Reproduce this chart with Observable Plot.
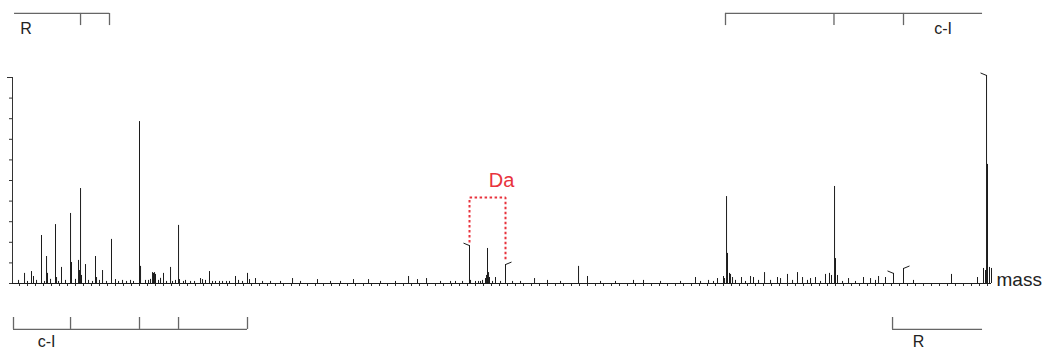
<!DOCTYPE html>
<html>
<head>
<meta charset="utf-8">
<script src="https://cdn.jsdelivr.net/npm/d3@7"></script>
<script src="https://cdn.jsdelivr.net/npm/@observablehq/plot@0.6"></script>
<style>
  html, body { margin: 0; padding: 0; background: #fff; }
  #chart svg { display: block; }
</style>
</head>
<body>
<div id="chart"></div>
<script>
// ---- Data ----
const peakMass = [
  816.3, 825.0, 827.5, 837.5, 843.8, 845.0, 855.0, 856.3, 862.5, 873.8,
  875.0, 883.8, 885.0, 886.3, 887.5, 892.5, 905.0, 906.3, 913.8, 925.0,
  930.0, 948.8, 960.0, 961.3, 971.3, 976.3, 977.5, 978.8, 980.0, 990.0,
  993.8, 998.8, 1001.3, 1008.8, 1010.0, 1017.5, 1023.8, 1036.3, 1038.8, 1047.5,
  1055.0, 1063.8, 1072.5, 1080.0, 1083.8, 1095.0, 1097.5, 1105.0, 1151.3, 1182.5,
  1227.5, 1246.3, 1296.3, 1307.5, 1318.8, 1348.8, 1372.5, 1373.8, 1386.3, 1392.5,
  1393.8, 1395.0, 1396.3, 1397.5, 1405.0, 1417.5, 1453.8, 1470.0, 1508.8, 1520.0,
  1577.5, 1590.0, 1655.0, 1682.5, 1690.0, 1691.3, 1693.8, 1695.0, 1697.5, 1698.8,
  1701.3, 1712.5, 1723.8, 1727.5, 1741.3, 1757.5, 1761.3, 1770.0, 1782.5, 1788.8,
  1798.8, 1805.0, 1817.5, 1822.5, 1825.0, 1828.8, 1830.0, 1832.5, 1846.3, 1865.0,
  1873.8, 1883.8, 1892.5, 1902.5, 1915.0, 1927.5, 1975.0, 2007.5, 2015.0, 2017.5,
  2018.8, 2020.0, 2022.5, 2025.0
];
const peakIntensity = [
  4.9, 5.8, 3.4, 23.3, 13.1, 4.9, 28.6, 2.9, 7.8, 34.0,
  10.2, 11.2, 6.3, 46.1, 3.9, 9.2, 13.1, 2.9, 6.3, 21.4,
  1.9, 1.5, 78.6, 8.3, 1.5, 5.3, 4.9, 5.3, 4.4, 4.9,
  1.0, 7.8, 1.0, 28.2, 1.9, 1.5, 1.0, 2.4, 1.9, 5.8,
  1.0, 1.0, 1.0, 3.4, 1.5, 4.9, 1.9, 2.4, 2.4, 1.9,
  1.9, 1.9, 3.4, 1.9, 2.4, 1.0, 18.4, 1.5, 1.0, 2.4,
  3.9, 17.0, 5.3, 2.9, 2.9, 9.2, 2.4, 1.5, 8.3, 3.4,
  1.5, 1.5, 2.9, 2.4, 3.4, 2.4, 42.2, 14.6, 4.9, 4.4,
  2.9, 2.9, 3.4, 2.9, 5.3, 2.9, 2.4, 4.4, 5.3, 2.9,
  2.4, 2.9, 4.4, 4.9, 3.9, 47.1, 12.1, 3.9, 2.4, 2.9,
  2.4, 3.4, 2.9, 4.9, 7.3, 1.5, 4.4, 2.9, 7.3, 6.3,
  101.0, 57.8, 7.8, 7.3
];
const noiseMass = [
  808.8, 820.0, 831.3, 841.3, 848.8, 858.8, 867.5, 880.0, 896.3, 901.3,
  910.0, 918.8, 933.8, 938.8, 943.8, 952.5, 967.5, 973.8, 983.8, 986.3,
  1005.0, 1015.0, 1028.8, 1042.5, 1051.3, 1060.0, 1068.8, 1088.8, 1113.8, 1123.8,
  1136.3, 1161.3, 1198.8, 1211.3, 1261.3, 1280.0, 1336.3, 1355.0, 1363.8, 1380.0,
  1383.8, 1388.8, 1401.3, 1411.3, 1426.3, 1436.3, 1486.3, 1536.3, 1555.0, 1611.3,
  1636.3, 1661.3, 1671.3, 1677.5, 1705.0, 1717.5, 1733.8, 1748.8, 1776.3, 1795.0,
  1811.3, 1838.8, 1855.0, 1880.0
];
const noiseIntensity = [
  1.5, 1.0, 1.5, 1.0, 2.0, 1.0, 1.5, 2.0, 1.5, 1.0,
  1.5, 1.0, 1.0, 1.5, 1.0, 1.0, 1.5, 2.0, 1.5, 2.5,
  1.5, 1.0, 1.0, 1.5, 1.0, 1.0, 1.0, 1.0, 1.0, 1.0,
  1.0, 1.0, 1.0, 1.0, 1.0, 1.0, 1.0, 1.0, 1.0, 1.0,
  1.0, 1.5, 1.0, 1.0, 1.0, 1.0, 1.0, 1.0, 1.0, 1.0,
  1.0, 1.0, 1.5, 1.0, 1.5, 1.0, 1.5, 1.5, 1.5, 1.5,
  1.0, 1.0, 1.0, 1.5
];
const yTicks = [0, 10, 20, 30, 40, 50, 60, 70, 80, 90, 100];

// isotope-cluster flags on selected peaks (side: -1 left, +1 right)
const flagMass = [1372.5, 1417.5, 1902.5, 1915.0, 2018.8];
const flagSide = [-1, 1, -1, 1, -1];

// fragment ladders
const rTopSpan = [803.8, 922.5];
const rTopTicks = [886.3, 922.5];
const ciTopSpan = [1692.5, 2013.8];
const ciTopTicks = [1692.5, 1828.1, 1915.0];
const ciBottomSpan = [802.5, 1095.0];
const ciBottomTicks = [802.5, 873.8, 960.0, 1008.8, 1095.0];
const rBottomSpan = [1901.3, 2013.8];
const rBottomTicks = [1901.3];
const topLabels = ["R", "c-I"];
const topLabelMass = [818.1, 1964.4];
const bottomLabels = ["c-I", "R"];
const bottomLabelMass = [843.8, 1933.8];

// mass-difference bracket
const daSpan = [1372.5, 1417.5];
const daLabel = "Da";
const daLabelMass = 1412.5;
const axisLabel = "mass";

// ---- Build ----
const xMin = 801.25, xMax = 2025;
const massPerPx = 1.25;
const peaks = peakMass.map((m, i) => ({mass: m, intensity: peakIntensity[i]}));
const noise = noiseMass.map((m, i) => ({mass: m, intensity: noiseIntensity[i]}));
const intensityAt = m => peaks.find(p => p.mass === m).intensity;
const flags = flagMass.map((m, i) => ({mass: m, side: flagSide[i], intensity: intensityAt(m)}));
const xTicks = d3.range(810, 2021, 10);

// annotation levels (in intensity units, outside the frame)
const TOP_LINE = 131.1, TOP_TICK = 125.2, TOP_TEXT = 123.5;
const BOT_LINE = -22.3, BOT_TICK = -16.5, BOT_TEXT = -28.4;
const DA_TOP = 41.7;
const daPath = [
  {mass: daSpan[0], y: intensityAt(daSpan[0]) + 1.5},
  {mass: daSpan[0], y: DA_TOP},
  {mass: daSpan[1], y: DA_TOP},
  {mass: daSpan[1], y: intensityAt(daSpan[1]) + 2}
];

const ink = "#1c1c1c";
const bracket = "#666";
const red = "#e8333d";
const font = "'Liberation Sans', Arial, sans-serif";

const chart = Plot.plot({
  width: 1046,
  height: 351,
  marginLeft: 12,
  marginRight: 55,
  marginTop: 77,
  marginBottom: 68,
  x: {domain: [xMin, xMax], label: null},
  y: {domain: [0, 100], label: null},
  style: {background: "#fff", fontFamily: font, color: ink, overflow: "visible"},
  marks: [
    // axes
    Plot.axisY({ticks: yTicks, tickSize: 3, tickFormat: () => "", label: null, stroke: "#333"}),
    Plot.axisY({ticks: [100], tickSize: 5, tickFormat: () => "", label: null, stroke: "#333"}),
    Plot.axisX({ticks: xTicks, tickSize: 3, tickFormat: () => "", label: null, stroke: "#333"}),
    Plot.ruleX([xMin], {y1: 0, y2: 100, stroke: "#333"}),
    // spectrum
    Plot.ruleX(noise, {x: "mass", y1: 0, y2: "intensity", stroke: ink, strokeWidth: 1}),
    Plot.ruleX(peaks, {x: "mass", y1: 0, y2: "intensity", stroke: ink, strokeWidth: 1}),
    Plot.ruleY([0], {stroke: ink, strokeWidth: 1.2}),
    Plot.link(flags, {
      x1: d => d.mass + d.side * 6 * massPerPx, y1: d => d.intensity + 1.2,
      x2: "mass", y2: "intensity", stroke: ink, strokeWidth: 1
    }),
    // mass difference bracket
    Plot.line(daPath, {x: "mass", y: "y", stroke: red, strokeWidth: 2, strokeDasharray: "2.5,2.5", strokeLinecap: "butt", strokeLinejoin: "miter"}),
    Plot.text([daLabel], {x: daLabelMass, y: 49.8, text: d => d, fill: red, fontSize: 20, textAnchor: "middle", lineAnchor: "middle"}),
    // ladders (top)
    Plot.ruleY([TOP_LINE], {x1: rTopSpan[0], x2: rTopSpan[1], stroke: bracket, strokeWidth: 1.3}),
    Plot.ruleX(rTopTicks, {y1: TOP_LINE, y2: TOP_TICK, stroke: bracket, strokeWidth: 1.3}),
    Plot.ruleY([TOP_LINE], {x1: ciTopSpan[0], x2: ciTopSpan[1], stroke: bracket, strokeWidth: 1.3}),
    Plot.ruleX(ciTopTicks, {y1: TOP_LINE, y2: TOP_TICK, stroke: bracket, strokeWidth: 1.3}),
    Plot.text(topLabels, {x: (d, i) => topLabelMass[i], y: TOP_TEXT, text: d => d, fontSize: 16, fill: "#222", lineAnchor: "middle"}),
    // ladders (bottom)
    Plot.ruleY([BOT_LINE], {x1: ciBottomSpan[0], x2: ciBottomSpan[1], stroke: bracket, strokeWidth: 1.3}),
    Plot.ruleX(ciBottomTicks, {y1: BOT_LINE, y2: BOT_TICK, stroke: bracket, strokeWidth: 1.3}),
    Plot.ruleY([BOT_LINE], {x1: rBottomSpan[0], x2: rBottomSpan[1], stroke: bracket, strokeWidth: 1.3}),
    Plot.ruleX(rBottomTicks, {y1: BOT_LINE, y2: BOT_TICK, stroke: bracket, strokeWidth: 1.3}),
    Plot.text(bottomLabels, {x: (d, i) => bottomLabelMass[i], y: BOT_TEXT, text: d => d, fontSize: 16, fill: "#222", lineAnchor: "middle"}),
    // axis label
    Plot.text([axisLabel], {x: xMax, y: 0, text: d => d, dx: 5, dy: -4, textAnchor: "start", lineAnchor: "middle", fontSize: 19, fill: "#222"})
  ]
});
document.getElementById("chart").appendChild(chart);
</script>
</body>
</html>
